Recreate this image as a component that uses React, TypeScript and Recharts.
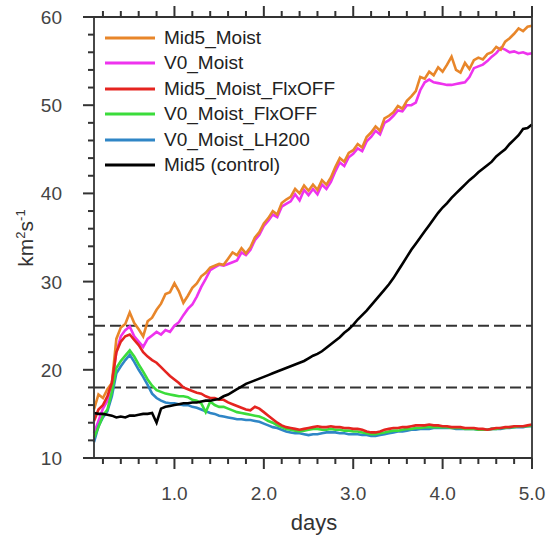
import { LineChart, Line, XAxis, YAxis, ReferenceLine, Legend } from 'recharts';

const days = [
  0.1, 0.15, 0.2, 0.25, 0.3, 0.35, 0.4, 0.45, 0.5, 0.55, 0.6, 0.65, 0.7, 0.75, 0.8, 0.85, 0.9, 0.95, 1.0, 1.05,
  1.1, 1.15, 1.2, 1.25, 1.3, 1.35, 1.4, 1.45, 1.5, 1.55, 1.6, 1.65, 1.7, 1.75, 1.8, 1.85, 1.9, 1.95, 2.0, 2.05,
  2.1, 2.15, 2.2, 2.25, 2.3, 2.35, 2.4, 2.45, 2.5, 2.55, 2.6, 2.65, 2.7, 2.75, 2.8, 2.85, 2.9, 2.95, 3.0, 3.05,
  3.1, 3.15, 3.2, 3.25, 3.3, 3.35, 3.4, 3.45, 3.5, 3.55, 3.6, 3.65, 3.7, 3.75, 3.8, 3.85, 3.9, 3.95, 4.0, 4.05,
  4.1, 4.15, 4.2, 4.25, 4.3, 4.35, 4.4, 4.45, 4.5, 4.55, 4.6, 4.65, 4.7, 4.75, 4.8, 4.85, 4.9, 4.95, 5.0,
];

const mid5Moist = [
  15.5, 17.2, 16.8, 17.8, 18.5, 23.5, 24.8, 25.2, 26.5, 25.3, 24.6, 23.8, 25.5, 25.9, 26.8, 27.5, 28.6, 28.8, 29.8, 28.9,
  27.6, 28.4, 29.3, 29.8, 30.6, 31.0, 31.6, 31.8, 32.0, 31.9, 32.6, 33.3, 33.0, 33.8, 33.2, 33.9, 35.0, 35.6, 36.6, 37.2,
  38.0, 37.6, 38.9, 39.3, 39.6, 40.5, 40.0, 40.9, 40.3, 41.0, 40.4, 41.5, 41.0, 41.8, 43.0, 44.0, 43.6, 44.6, 44.9, 45.6,
  45.2, 46.4, 46.9, 47.6, 47.1, 48.5, 48.8, 49.2, 49.9, 49.6, 50.5, 51.0, 51.6, 53.2, 53.0, 53.8, 53.4, 54.3, 53.8, 54.6,
  55.5, 54.0, 53.7, 54.8, 54.1, 55.1, 55.4, 55.2, 55.8, 56.0, 56.6, 56.3, 57.2, 57.6, 58.1, 58.7, 58.4, 58.9, 59.0,
];

const v0Moist = [
  12.8, 14.2, 15.6, 16.5, 18.5, 22.0, 23.8, 24.5, 24.9, 23.8, 23.2, 22.6, 23.5, 23.9, 24.3, 24.0, 24.5, 24.3, 25.0, 25.4,
  26.2, 26.9, 27.4, 28.3, 29.4, 30.3, 31.3, 31.6, 31.9, 31.8, 32.0, 32.2, 32.4, 33.3, 33.0, 33.6, 34.7, 35.3, 36.3, 36.9,
  37.6, 37.3, 38.5, 38.8, 39.1, 39.9, 39.2, 40.4, 39.8, 40.5, 39.9, 41.0, 40.5, 41.3, 42.5, 43.5, 43.1, 44.1, 44.5, 45.1,
  44.8, 45.9, 46.4, 47.1, 46.7, 48.0, 48.3, 48.8, 49.4, 49.3, 50.0, 50.0, 50.3, 51.7, 52.6, 52.9, 52.6, 52.5, 52.4, 52.3,
  52.3, 52.4, 52.5, 52.6, 53.2, 54.2, 54.4, 54.6, 55.0, 55.5, 55.9, 56.5, 56.3, 56.0, 56.1, 55.9, 56.0, 55.8, 55.9,
];

const mid5MoistFlxOff = [
  14.2, 15.5, 16.0, 17.0, 18.5, 22.0, 23.2, 23.8, 24.0, 23.4, 22.8, 22.0, 21.5, 21.1, 20.8, 20.3, 19.8, 19.3, 18.9, 18.5,
  18.0, 17.8, 17.6, 17.4, 17.3, 17.0, 16.8, 16.8, 16.6, 16.6, 16.3, 16.1, 15.9, 15.7, 15.5, 15.4, 15.8, 15.6, 15.2, 14.8,
  14.4, 14.0, 13.7, 13.5, 13.4, 13.3, 13.2, 13.3, 13.4, 13.5, 13.6, 13.5, 13.5, 13.6, 13.5, 13.5, 13.4, 13.4, 13.3, 13.3,
  13.2, 13.0, 12.9, 12.9, 13.0, 13.2, 13.3, 13.4, 13.4, 13.5, 13.5, 13.6, 13.7, 13.7, 13.7, 13.8, 13.7, 13.7, 13.6, 13.6,
  13.5, 13.5, 13.5, 13.4, 13.4, 13.4, 13.3, 13.3, 13.2, 13.3, 13.4, 13.4, 13.5, 13.5, 13.6, 13.6, 13.6, 13.7, 13.8,
];

const v0MoistFlxOff = [
  12.3, 13.5, 14.8, 15.5, 17.5, 20.2, 21.0, 21.6, 22.2, 21.5, 20.6, 19.8, 18.9, 18.2, 17.7, 17.5, 17.3, 17.2, 17.1, 17.0,
  17.0, 16.9, 16.6, 16.5, 16.2, 15.2, 16.4, 16.0, 15.8, 15.8, 15.6, 15.4, 15.2, 15.1, 15.0, 14.9, 14.8, 14.7, 14.5, 14.2,
  14.0, 13.7, 13.5, 13.3, 13.2, 13.1, 13.0, 13.1, 13.2, 13.3, 13.3, 13.2, 13.2, 13.3, 13.2, 13.2, 13.1, 13.1, 13.0, 13.0,
  12.9, 12.8, 12.7, 12.7, 12.8, 12.9, 13.0, 13.1, 13.1, 13.2, 13.3, 13.3, 13.4, 13.4, 13.5, 13.5, 13.5, 13.5, 13.5, 13.5,
  13.4, 13.4, 13.4, 13.3, 13.3, 13.3, 13.2, 13.2, 13.2, 13.3, 13.3, 13.4, 13.4, 13.5, 13.5, 13.6, 13.6, 13.6, 13.7,
];

const v0MoistLh200 = [
  11.8, 13.6, 14.6, 15.3, 17.0, 19.6, 20.4, 21.1, 21.7, 20.9, 20.0, 19.2, 18.3, 17.3, 16.8, 16.5, 16.3, 16.2, 16.2, 16.1,
  16.0, 16.0, 15.8, 15.7, 15.5, 15.3, 15.1, 15.0, 14.8, 14.7, 14.6, 14.5, 14.4, 14.4, 14.3, 14.3, 14.2, 14.1, 13.9, 13.7,
  13.5, 13.4, 13.2, 13.0, 12.9, 12.8, 12.8, 12.7, 12.6, 12.7, 12.7, 12.8, 12.9, 12.9, 12.9, 12.8, 12.8, 12.7, 12.7, 12.7,
  12.6, 12.6, 12.5, 12.5, 12.6, 12.7, 12.8, 12.9, 13.0, 13.0, 13.1, 13.2, 13.2, 13.3, 13.3, 13.3, 13.4, 13.4, 13.4, 13.4,
  13.4, 13.3, 13.3, 13.3, 13.3, 13.3, 13.2, 13.2, 13.2, 13.3, 13.3, 13.3, 13.4, 13.4, 13.5, 13.5, 13.5, 13.6, 13.6,
];

const mid5Control = [
  15.1, 15.0, 15.0, 14.9, 14.8, 14.6, 14.7, 14.6, 14.8, 14.8, 14.9, 15.0, 15.0, 15.1, 14.0, 15.6, 15.8, 15.9, 16.0, 16.1,
  16.2, 16.2, 16.3, 16.3, 16.4, 16.5, 16.5, 16.6, 16.7, 17.0, 17.2, 17.5, 17.8, 18.1, 18.4, 18.6, 18.8, 19.0, 19.2, 19.4,
  19.6, 19.8, 20.0, 20.2, 20.4, 20.6, 20.8, 21.0, 21.3, 21.6, 21.8, 22.1, 22.5, 22.9, 23.3, 23.7, 24.2, 24.6, 25.1, 25.7,
  26.2, 26.7, 27.3, 27.9, 28.5, 29.1, 29.7, 30.4, 31.2, 32.0, 32.8, 33.6, 34.3, 35.0, 35.7, 36.4, 37.1, 37.8, 38.4, 38.9,
  39.5, 40.0, 40.5, 41.0, 41.5, 41.9, 42.4, 42.8, 43.2, 43.6, 44.2, 44.6, 45.0, 45.6, 46.1, 46.6, 47.3, 47.4, 47.8,
];

const thresholds = [25, 18];

const xTicks = [
  0.2, 0.4, 0.6, 0.8, 1.0, 1.2, 1.4, 1.6, 1.8, 2.0, 2.2, 2.4, 2.6, 2.8, 3.0,
  3.2, 3.4, 3.6, 3.8, 4.0, 4.2, 4.4, 4.6, 4.8, 5.0,
];
const yTicks = [
  10, 12, 14, 16, 18, 20, 22, 24, 26, 28, 30, 32, 34, 36, 38, 40,
  42, 44, 46, 48, 50, 52, 54, 56, 58, 60,
];

const legendNames = ['Mid5_Moist', 'V0_Moist', 'Mid5_Moist_FlxOFF', 'V0_Moist_FlxOFF', 'V0_Moist_LH200', 'Mid5 (control)'];
const legendColors = ['#e8862a', '#ee33ee', '#e52420', '#3bdc3b', '#2f86c6', '#000000'];

const data = days.map((d, i) => ({
  d,
  mid5Moist: mid5Moist[i],
  v0Moist: v0Moist[i],
  mid5MoistFlxOff: mid5MoistFlxOff[i],
  v0MoistFlxOff: v0MoistFlxOff[i],
  v0MoistLh200: v0MoistLh200[i],
  mid5Control: mid5Control[i],
}));

const FONT = '"Liberation Sans", Arial, Helvetica, sans-serif';
const AXIS = '#333';

const isMajor = (v: number, step: number) => Math.abs(v / step - Math.round(v / step)) < 1e-6;

// tick marks drawn by hand so minor ticks can be shorter than major ones
const makeXTick = (side: 'top' | 'bottom') => (props: any) => {
  const { x, y, payload } = props;
  const major = isMajor(payload.value, 1);
  const len = major ? 11 : 6;
  const end = side === 'top' ? y - len : y + len;
  return (
    <g>
      <path d={`M${x},${y}L${x},${end}`} stroke={AXIS} strokeWidth={2} />
      {side === 'bottom' && major && (
        <text x={x} y={y + 42} textAnchor="middle" fontSize={19} fontFamily={FONT} fill="#444">
          {Number(payload.value).toFixed(1)}
        </text>
      )}
    </g>
  );
};

const makeYTick = (side: 'left' | 'right') => (props: any) => {
  const { x, y, payload } = props;
  const major = isMajor(payload.value, 10);
  const len = major ? 11 : 6;
  const end = side === 'right' ? x + len : x - len;
  return (
    <g>
      <path d={`M${x},${y}L${end},${y}`} stroke={AXIS} strokeWidth={2} />
      {side === 'left' && major && (
        <text x={x - 32} y={y + 7} textAnchor="end" fontSize={19} fontFamily={FONT} fill="#444">
          {payload.value}
        </text>
      )}
    </g>
  );
};

const BottomTick = makeXTick('bottom');
const TopTick = makeXTick('top');
const LeftTick = makeYTick('left');
const RightTick = makeYTick('right');

const renderLegend = () => (
  <div style={{ fontFamily: FONT, fontSize: 19, color: '#222' }}>
    {legendNames.map((name, i) => (
      <div key={name} style={{ display: 'flex', alignItems: 'center', height: 25.5 }}>
        <svg width={50} height={6} style={{ marginRight: 9 }}>
          <line x1={0} x2={50} y1={3} y2={3} stroke={legendColors[i]} strokeWidth={3} />
        </svg>
        <span style={{ whiteSpace: 'nowrap' }}>{name}</span>
      </div>
    ))}
  </div>
);

export default function App() {
  return (
    <div style={{ position: 'absolute', left: 0, top: 0, background: '#fff' }}>
      <LineChart width={548} height={539} data={data} margin={{ top: 16, right: 15, bottom: 80, left: 93 }}>
        <XAxis
          dataKey="d"
          type="number"
          domain={[0.1, 5]}
          ticks={xTicks}
          interval={0}
          height={1}
          tickSize={0}
          tickMargin={0}
          tickLine={false}
          axisLine={{ stroke: AXIS, strokeWidth: 1.8 }}
          tick={<BottomTick />}
          label={{
            content: () => (
              <text x={314} y={530} textAnchor="middle" fontSize={22} fontFamily={FONT} fill="#333">
                days
              </text>
            ),
          }}
        />
        <XAxis
          xAxisId="top"
          orientation="top"
          dataKey="d"
          type="number"
          domain={[0.1, 5]}
          ticks={xTicks}
          interval={0}
          height={1}
          tickSize={0}
          tickMargin={0}
          tickLine={false}
          axisLine={{ stroke: AXIS, strokeWidth: 1.8 }}
          tick={<TopTick />}
        />
        <YAxis
          type="number"
          domain={[10, 60]}
          ticks={yTicks}
          interval={0}
          width={1}
          tickSize={0}
          tickMargin={0}
          tickLine={false}
          axisLine={{ stroke: AXIS, strokeWidth: 1.8 }}
          tick={<LeftTick />}
          label={{
            content: () => (
              <text
                x={33}
                y={238}
                transform="rotate(-90, 33, 238)"
                textAnchor="middle"
                fontSize={21}
                fontFamily={FONT}
                fill="#333"
              >
                km<tspan fontSize={13} dy={-8}>2</tspan>
                <tspan dy={8}>s</tspan>
                <tspan fontSize={13} dy={-8}>-1</tspan>
              </text>
            ),
          }}
        />
        <YAxis
          yAxisId="right"
          orientation="right"
          type="number"
          domain={[10, 60]}
          ticks={yTicks}
          interval={0}
          width={1}
          tickSize={0}
          tickMargin={0}
          tickLine={false}
          axisLine={{ stroke: AXIS, strokeWidth: 1.8 }}
          tick={<RightTick />}
        />
        {thresholds.map((t) => (
          <ReferenceLine key={t} y={t} stroke="#333" strokeWidth={2} strokeDasharray="11 5" />
        ))}
        <Line type="linear" dataKey="v0Moist" stroke={legendColors[1]} strokeWidth={2.6} dot={false} isAnimationActive={false} />
        <Line type="linear" dataKey="mid5Moist" stroke={legendColors[0]} strokeWidth={2.6} dot={false} isAnimationActive={false} />
        <Line type="linear" dataKey="v0MoistLh200" stroke={legendColors[4]} strokeWidth={2.6} dot={false} isAnimationActive={false} />
        <Line type="linear" dataKey="v0MoistFlxOff" stroke={legendColors[3]} strokeWidth={2.6} dot={false} isAnimationActive={false} />
        <Line type="linear" dataKey="mid5MoistFlxOff" stroke={legendColors[2]} strokeWidth={2.6} dot={false} isAnimationActive={false} />
        <Line type="linear" dataKey="mid5Control" stroke={legendColors[5]} strokeWidth={2.6} dot={false} isAnimationActive={false} />
        <Legend
          layout="vertical"
          align="center"
          verticalAlign="middle"
          content={renderLegend}
          wrapperStyle={{ top: 25, left: 105, width: 240, height: 155 }}
        />
      </LineChart>
    </div>
  );
}
